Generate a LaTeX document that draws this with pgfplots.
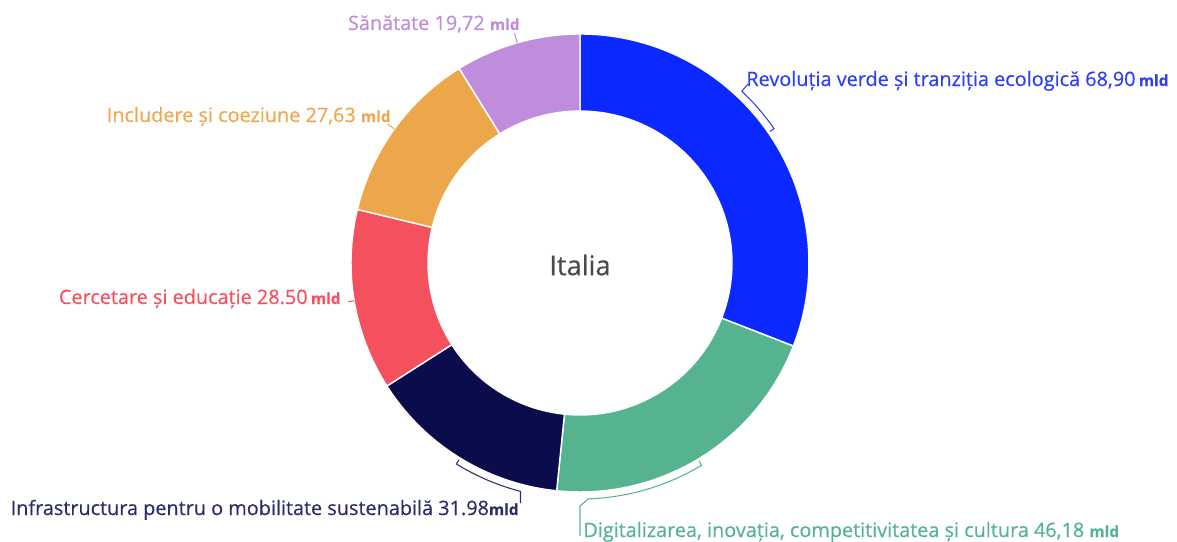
\documentclass[border=0pt]{standalone}
\usepackage{pgfplots}
\pgfplotsset{compat=1.18}
\usepackage{fontspec}
\setmainfont{Open Sans}
\newfontfamily\medfont[FakeBold=0.4]{Open Sans}
\definecolor{cBlue}{HTML}{0A28FF}
\definecolor{cGreen}{HTML}{55B38F}
\definecolor{cNavy}{HTML}{0B0C4B}
\definecolor{cRed}{HTML}{F5505E}
\definecolor{cOrange}{HTML}{EBA74A}
\definecolor{cLav}{HTML}{C08DDC}
\definecolor{tBlue}{HTML}{2F3FF5}
\definecolor{tNavy}{HTML}{2B2D66}
\definecolor{tOrange}{HTML}{EFA850}
\definecolor{tGray}{HTML}{4A4A4A}
\newcommand\lbl{\fontsize{11.3}{13}\medfont\selectfont}
\newcommand\mld{\fontsize{8.8}{10}\selectfont\bfseries}
\newcommand\donut[3]{\fill[#3,draw=white,line width=0.8pt] (axis cs:{580+229*cos(#1)},{276+229*sin(#1)}) arc[start angle=#1,end angle=#2,radius=4.58cm] -- (axis cs:{580+152*cos(#2)},{276+152*sin(#2)}) arc[start angle=#2,end angle=#1,radius=3.04cm] -- cycle;}
\newcommand\tick[4]{\draw[#4,line width=0.6pt] (axis cs:{580+#2*cos(#1)},{276+#2*sin(#1)}) -- (axis cs:{580+#3*cos(#1)},{276+#3*sin(#1)});}
\begin{document}
\begin{tikzpicture}
\pgfmathsetmacro\vA{68.90}
\pgfmathsetmacro\vB{46.18}
\pgfmathsetmacro\vC{31.98}
\pgfmathsetmacro\vD{28.50}
\pgfmathsetmacro\vE{27.63}
\pgfmathsetmacro\vF{19.72}
\pgfmathsetmacro\tot{\vA+\vB+\vC+\vD+\vE+\vF}
\pgfmathsetmacro\aA{90}
\pgfmathsetmacro\aB{\aA-360*(\vA/\tot)}
\pgfmathsetmacro\aC{\aB-360*(\vB/\tot)}
\pgfmathsetmacro\aD{\aC-360*(\vC/\tot)}
\pgfmathsetmacro\aE{\aD-360*(\vD/\tot)}
\pgfmathsetmacro\aF{\aE-360*(\vE/\tot)}
\pgfmathsetmacro\aG{\aF-360*(\vF/\tot)}
\pgfmathsetmacro\mD{(\aD+\aE)/2}
\pgfmathsetmacro\mE{(\aE+\aF)/2}
\pgfmathsetmacro\mF{(\aF+\aG)/2}
\begin{axis}[x=0.02cm,y=0.02cm,xmin=0,xmax=1177,ymin=0,ymax=539,hide axis,clip=false,scale only axis]
\addplot[draw=none] coordinates {(0,0) (1177,539)};
\donut{\aA}{\aB}{cBlue}
\donut{\aB}{\aC}{cGreen}
\donut{\aC}{\aD}{cNavy}
\donut{\aD}{\aE}{cRed}
\donut{\aE}{\aF}{cOrange}
\donut{\aF}{\aG}{cLav}
% leaders
\draw[tBlue,line width=0.6pt] (axis cs:748,455) -- (axis cs:{580+236*cos(46.7)},{276+236*sin(46.7)}) arc[start angle=46.7,end angle=34.7,radius=4.72cm] -- (axis cs:{580+231*cos(34.7)},{276+231*sin(34.7)});
\draw[cGreen,line width=0.6pt] (axis cs:{580+231*cos(-59)},{276+231*sin(-59)}) -- (axis cs:{580+236*cos(-59)},{276+236*sin(-59)}) arc[start angle=-59,end angle=-88,radius=4.72cm] -- (axis cs:580,33) -- (axis cs:580,3);
\draw[tNavy,line width=0.6pt] (axis cs:{580+231*cos(-121.6)},{276+231*sin(-121.6)}) -- (axis cs:{580+236*cos(-121.6)},{276+236*sin(-121.6)}) arc[start angle=-121.6,end angle=-104.6,radius=4.72cm] -- (axis cs:520.5,36);
\tick{\mD}{229}{235}{cRed}
\tick{\mE}{229}{237}{tOrange}
\tick{\mF}{229}{239}{cLav}
% labels
\node[anchor=base west,text=tBlue,font=\lbl,inner sep=0pt] at (axis cs:746,453) {Revoluția verde și tranziția ecologică 68,90\,{\mld mld}};
\node[anchor=base west,text=cGreen,font=\lbl,inner sep=0pt] at (axis cs:583,2) {Digitalizarea, inovația, competitivitatea și cultura 46,18 {\mld mld}};
\node[anchor=base east,text=tNavy,font=\lbl,inner sep=0pt] at (axis cs:519,24) {Infrastructura pentru o mobilitate sustenabilă 31.98{\mld mld}};
\node[anchor=base east,text=cRed,font=\lbl,inner sep=0pt] at (axis cs:341,235) {Cercetare și educație 28.50\,{\mld mld}};
\node[anchor=base east,text=tOrange,font=\lbl,inner sep=0pt] at (axis cs:391,417) {Includere și coeziune 27,63 {\mld mld}};
\node[anchor=base east,text=cLav,font=\lbl,inner sep=0pt] at (axis cs:520,509) {Sănătate 19,72 {\mld mld}};
\node[text=tGray,font=\fontsize{15.5}{17}\medfont\selectfont,inner sep=0pt] at (axis cs:580,274) {Italia};
\end{axis}
\end{tikzpicture}
\end{document}
